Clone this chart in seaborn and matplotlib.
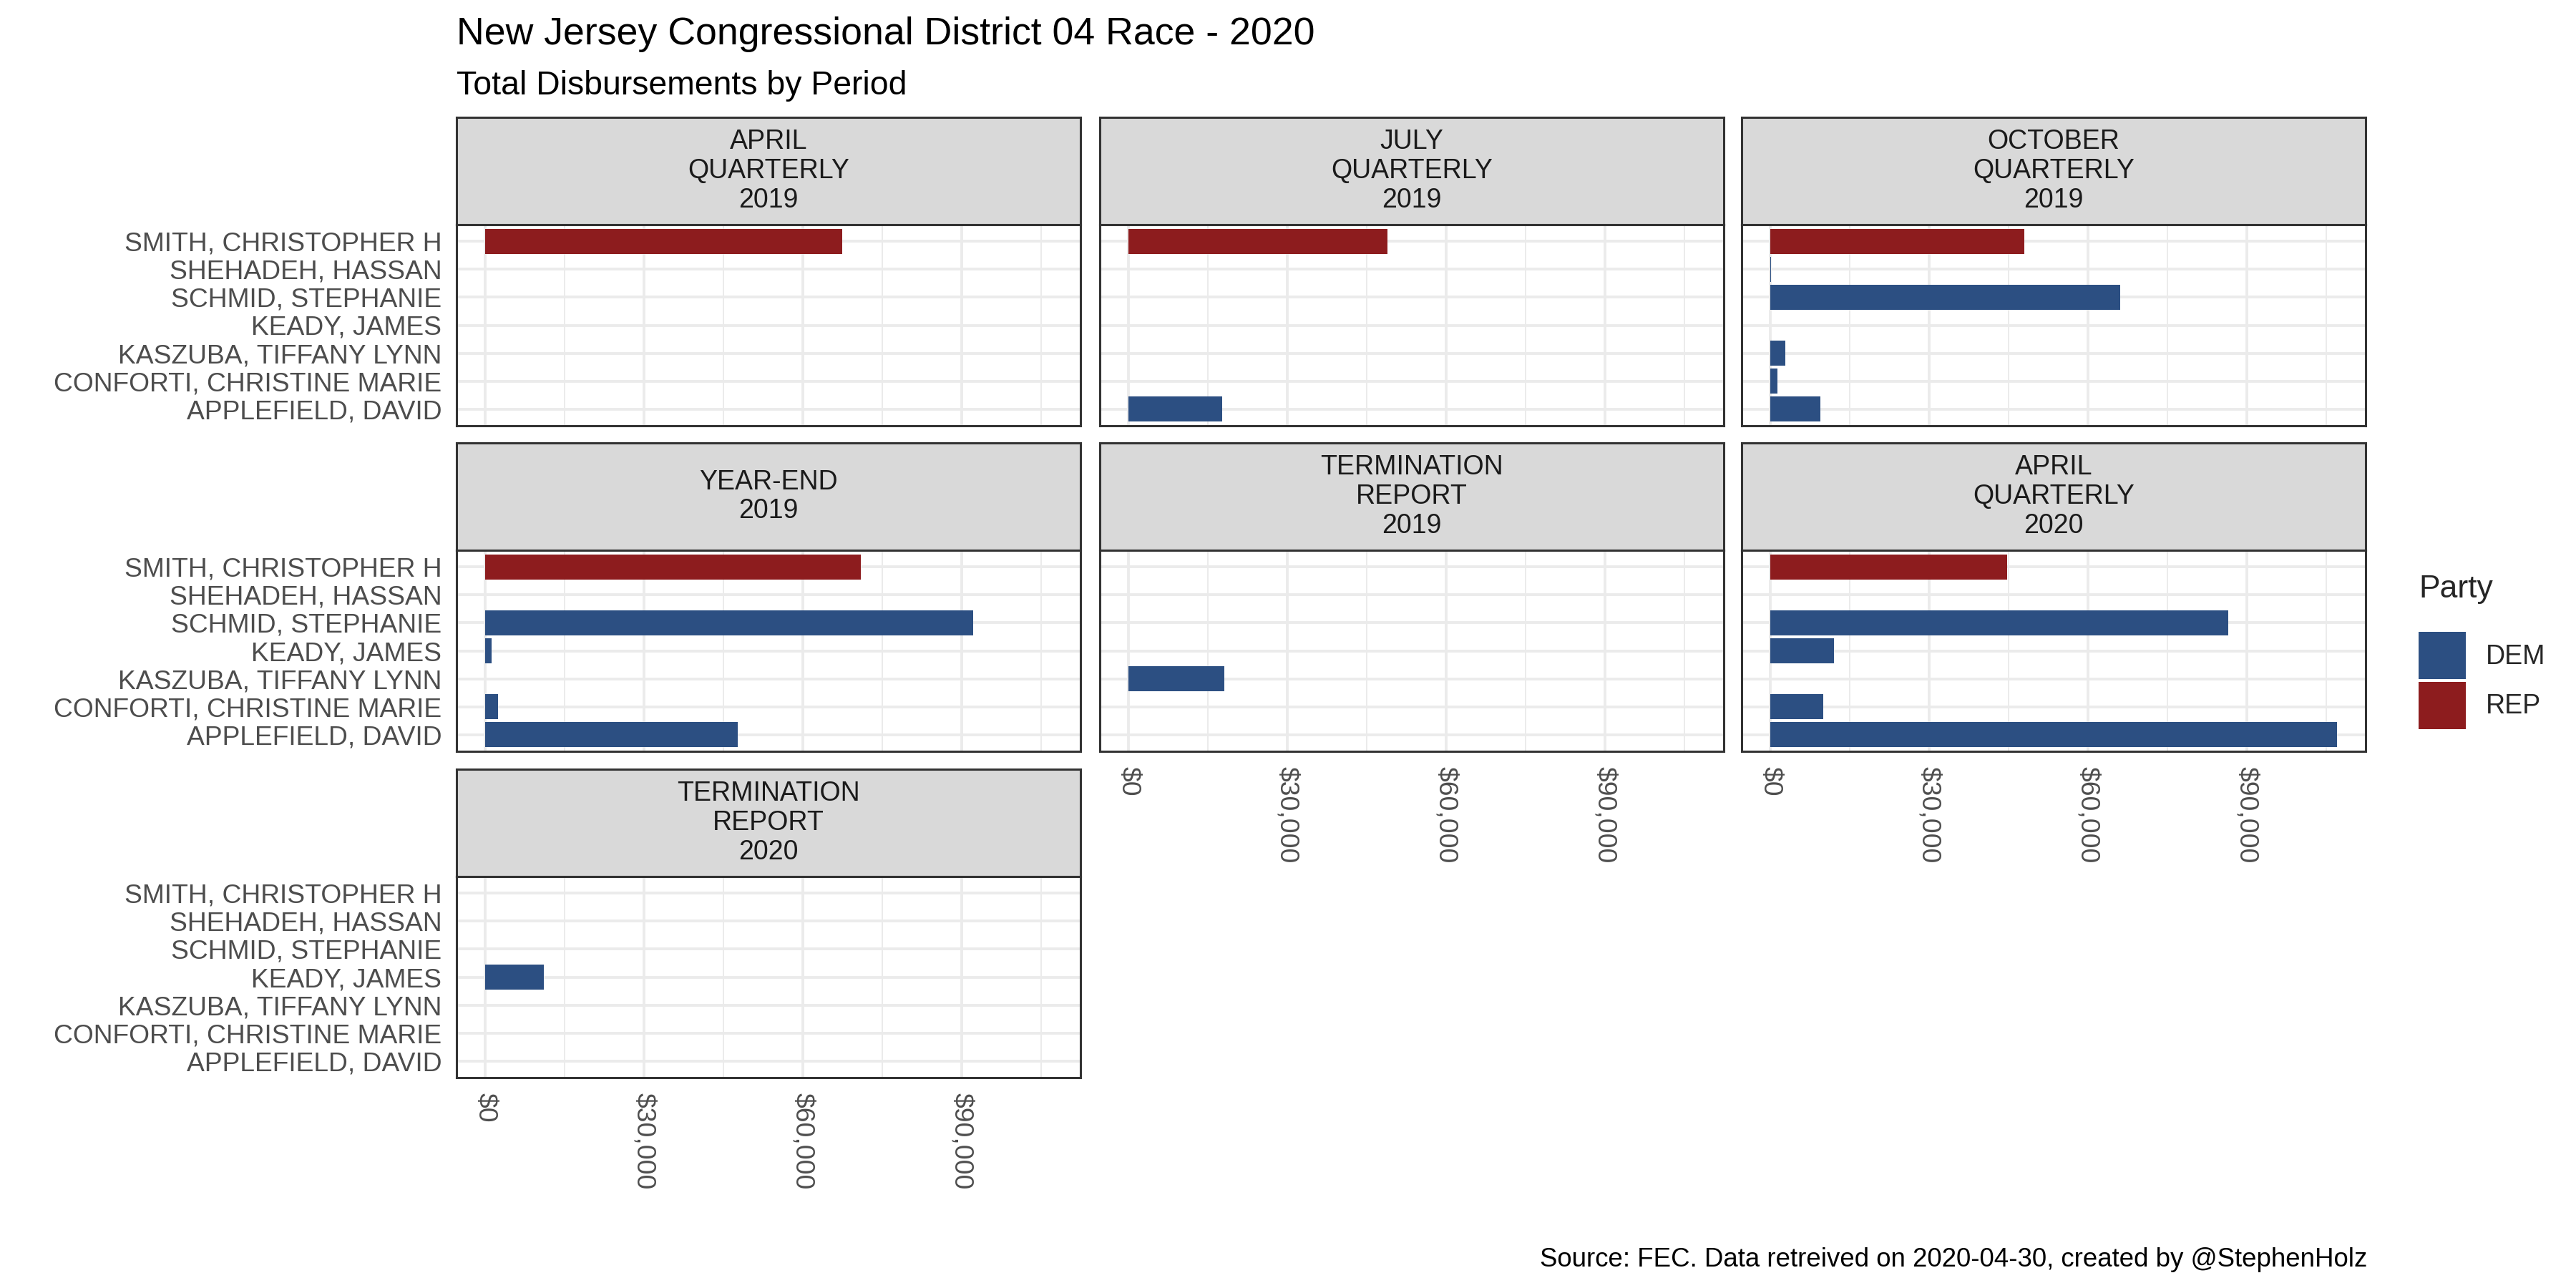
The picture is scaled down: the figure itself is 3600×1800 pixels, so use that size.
import numpy as np
import pandas as pd
import matplotlib
matplotlib.use('Agg')
import matplotlib.pyplot as plt
from matplotlib.patches import Patch
from matplotlib.ticker import MultipleLocator, FuncFormatter
import seaborn as sns

# report periods, in facet order
periods = ['APRIL\nQUARTERLY\n2019', 'JULY\nQUARTERLY\n2019', 'OCTOBER\nQUARTERLY\n2019',
           'YEAR-END\n2019', 'TERMINATION\nREPORT\n2019', 'APRIL\nQUARTERLY\n2020',
           'TERMINATION\nREPORT\n2020']

# candidates, top to bottom
candidates = ['SMITH, CHRISTOPHER H', 'SHEHADEH, HASSAN', 'SCHMID, STEPHANIE', 'KEADY, JAMES',
              'KASZUBA, TIFFANY LYNN', 'CONFORTI, CHRISTINE MARIE', 'APPLEFIELD, DAVID']
parties = ['REP', 'DEM', 'DEM', 'DEM', 'DEM', 'DEM', 'DEM']

# total disbursements per period (same order as periods), 0 = not filed
smith = [67400, 49000, 48000, 71000, 0, 44800, 0]
shehadeh = [0, 0, 250, 0, 0, 0, 0]
schmid = [0, 0, 66100, 92200, 0, 86500, 0]
keady = [0, 0, 0, 1250, 0, 12100, 11150]
kaszuba = [0, 0, 2900, 0, 18100, 0, 0]
conforti = [0, 0, 1450, 2450, 0, 10050, 0]
applefield = [0, 17800, 9450, 47800, 0, 107100, 0]

partyColors = {'DEM': '#2C4F82', 'REP': '#8D1C1E'}

rows = []
for cand, party, vals in zip(candidates, parties,
                             [smith, shehadeh, schmid, keady, kaszuba, conforti, applefield]):
    for per, v in zip(periods, vals):
        if v > 0:
            rows.append({'candidate': cand, 'party': party, 'period': per, 'amount': v})
df = pd.DataFrame(rows)

sns.set_style('white')
plt.rcParams['font.family'] = ['Liberation Sans', 'DejaVu Sans']

W, H = 3600, 1800
fig = plt.figure(figsize=(18, 9), dpi=200)


def box(x0, y0, w, h):
    # pixel box (top-left origin) -> figure fraction
    return [x0 / W, 1 - (y0 + h) / H, w / W, h / H]


colX = [638, 1537, 2434]
rowY = [164, 619, 1075]
panelW, stripH, panelH = 872, 150, 281
edge = '#333333'

xmax = df['amount'].max()
bottomPanels = {0: 2, 1: 1, 2: 1}  # column -> last row index

for i, per in enumerate(periods):
    r, c = divmod(i, 3)
    # strip
    sax = fig.add_axes(box(colX[c], rowY[r], panelW, stripH))
    sax.set_facecolor('#D9D9D9')
    sax.set_xticks([])
    sax.set_yticks([])
    for sp in sax.spines.values():
        sp.set_color(edge)
        sp.set_linewidth(1.1)
    sax.text(0.5, 0.5, per, ha='center', va='center', fontsize=13.5, color='#1A1A1A',
             linespacing=1.17, transform=sax.transAxes)

    ax = fig.add_axes(box(colX[c], rowY[r] + stripH, panelW, panelH))
    sub = df[df['period'] == per]
    sns.barplot(data=sub, x='amount', y='candidate', hue='party', order=candidates,
                hue_order=['DEM', 'REP'], palette=partyColors, dodge=False, width=0.9,
                errorbar=None, legend=False, orient='h', saturation=1, ax=ax)
    for p in ax.patches:
        p.set_linewidth(0)

    ax.set_xlim(-0.05 * xmax, 1.05 * xmax)
    ax.set_ylim(len(candidates) - 0.4, -0.6)
    ax.set_xlabel('')
    ax.set_ylabel('')
    ax.set_facecolor('white')
    ax.set_axisbelow(True)

    ax.xaxis.set_major_locator(MultipleLocator(30000))
    ax.xaxis.set_minor_locator(MultipleLocator(15000))
    ax.xaxis.set_major_formatter(FuncFormatter(lambda v, pos: '${:,.0f}'.format(v)))
    ax.grid(True, which='major', axis='both', color='#EBEBEB', linewidth=1.4)
    ax.grid(True, which='minor', axis='x', color='#EBEBEB', linewidth=0.7)

    for sp in ax.spines.values():
        sp.set_visible(True)
        sp.set_color(edge)
        sp.set_linewidth(1.1)

    ax.tick_params(axis='both', which='major', length=4, width=1.0, color=edge,
                   labelsize=13.4, labelcolor='#4D4D4D', pad=3.5)
    ax.tick_params(axis='x', which='minor', length=0)

    if c != 0:
        ax.tick_params(axis='y', left=False, labelleft=False)
    if r != bottomPanels[c]:
        ax.tick_params(axis='x', bottom=False, labelbottom=False)
    else:
        for lab in ax.get_xticklabels():
            lab.set_rotation(270)
            lab.set_ha('center')
            lab.set_va('top')

fig.text(638 / W, 1 - 62 / H, 'New Jersey Congressional District 04 Race - 2020',
         fontsize=19.3, color='black', ha='left', va='baseline')
fig.text(638 / W, 1 - 132 / H, 'Total Disbursements by Period',
         fontsize=16.7, color='black', ha='left', va='baseline')
fig.text(3308 / W, 1 - 1770 / H, 'Source: FEC. Data retreived on 2020-04-30, created by @StephenHolz',
         fontsize=13.2, color='black', ha='right', va='baseline')

handles = [Patch(facecolor=partyColors[p], edgecolor='none', label=p) for p in ['DEM', 'REP']]
leg = fig.legend(handles=handles, title='Party', loc='center left',
                 bbox_to_anchor=(3380 / W, 1 - 911 / H), frameon=False, fontsize=13.5,
                 title_fontsize=16, handlelength=1.76, handleheight=2.33, handletextpad=0.75,
                 labelspacing=0.1, borderpad=0, borderaxespad=0, alignment='left')
leg._legend_box.sep = 14

fig.savefig('out.png', dpi=200, facecolor='white')
